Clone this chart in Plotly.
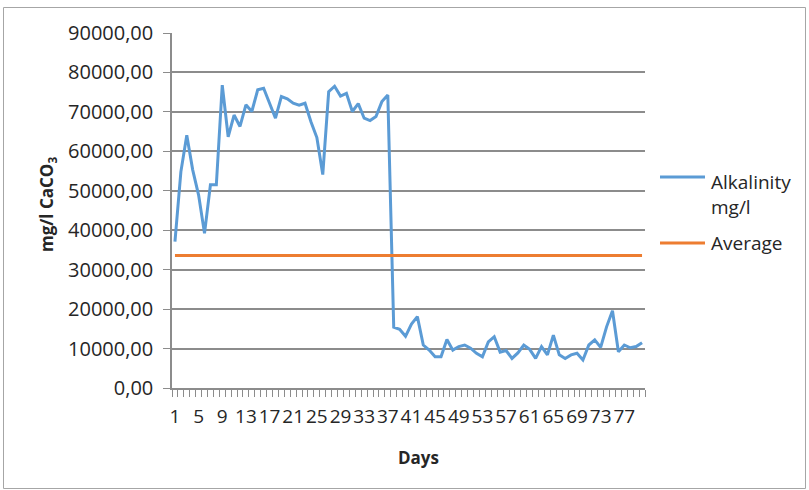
import plotly.graph_objects as go

days = list(range(1, 81))
alkalinity = [37100, 54800, 64100, 55300, 48900, 39200, 51500, 51500, 76800, 63700,
              69200, 66300, 71800, 70100, 75600, 76000, 72200, 68400, 73900, 73300,
              72200, 71700, 72200, 67500, 63500, 54100, 75100, 76500, 74000, 74700,
              70100, 72100, 68400, 67800, 68800, 72600, 74300, 15400, 14900, 13100,
              16200, 18100, 10900, 9600, 7900, 7900, 12300, 9600, 10500, 10900,
              10100, 8800, 7900, 11700, 13000, 9100, 9500, 7500, 8900, 10900,
              9800, 7500, 10500, 8400, 13400, 8400, 7500, 8400, 8800, 7100,
              10900, 12200, 10300, 15500, 19600, 9200, 10900, 10200, 10500, 11500]
average = [33600] * 80
tick_days = list(range(1, 78, 4))
tick_labels = [str(d) for d in tick_days]

W, H = 809, 490
L, R, T, B = 172, 645, 33, 388


def px(xp):
    return (xp - L) / (R - L)


def py(yp):
    return (B - yp) / (B - T)


FONT = "Open Sans"
BLUE = "#5B9BD5"
ORANGE = "#ED7D31"
GRID = "#8c8c8c"

fig = go.Figure()
fig.add_trace(go.Scatter(x=days, y=alkalinity, mode="lines", name="Alkalinity mg/l",
                         line=dict(color=BLUE, width=3), showlegend=False))
fig.add_trace(go.Scatter(x=days, y=average, mode="lines", name="Average",
                         line=dict(color=ORANGE, width=3), showlegend=False))

fig.update_layout(
    width=W, height=H,
    margin=dict(l=L, r=W - R, t=T, b=H - B, autoexpand=False),
    paper_bgcolor="white", plot_bgcolor="white",
    separators=",.",
    font=dict(family=FONT, size=19, color="#262626"),
    xaxis=dict(range=[0.5, 80.5], tickmode="array", tickvals=tick_days, ticktext=tick_labels,
               tickangle=0, automargin=False,
               ticks="outside", ticklen=8, tickcolor="rgba(0,0,0,0)", ticklabelstandoff=2,
               showgrid=False, zeroline=False, showline=True, linecolor=GRID, linewidth=1.5,
               tickfont=dict(size=19),
               minor=dict(tickmode="array", tickvals=[d + 0.5 for d in range(0, 81)],
                          ticks="outside", ticklen=7, tickcolor=GRID, tickwidth=1, showgrid=False)),
    yaxis=dict(range=[0, 90000], dtick=10000, tickformat=".2f", automargin=False,
               ticks="outside", ticklen=7, tickcolor=GRID, ticklabelstandoff=6,
               showgrid=True, gridcolor=GRID, gridwidth=1.5, zeroline=False,
               showline=True, linecolor=GRID, linewidth=1.5, tickfont=dict(size=20)),
)

fig.add_annotation(x=px(418), y=py(457), xref="paper", yref="paper", text="<b>Days</b>",
                   showarrow=False, font=dict(size=17, color="#262626"),
                   xanchor="center", yanchor="middle")
fig.add_annotation(x=px(47), y=py(205), xref="paper", yref="paper",
                   text="<b>mg/l CaCO<sub>3</sub></b>", textangle=-90,
                   showarrow=False, font=dict(size=17, color="#262626"),
                   xanchor="center", yanchor="middle")

# legend
fig.add_shape(type="line", xref="paper", yref="paper", x0=px(660), x1=px(705), y0=py(177), y1=py(177),
              line=dict(color=BLUE, width=3))
fig.add_shape(type="line", xref="paper", yref="paper", x0=px(660), x1=px(705), y0=py(243), y1=py(243),
              line=dict(color=ORANGE, width=3))
fig.add_annotation(x=px(709), y=py(194.5), xref="paper", yref="paper", text="Alkalinity<br>mg/l",
                   showarrow=False, align="left", xanchor="left", yanchor="middle",
                   font=dict(size=19, color="#262626"))
fig.add_annotation(x=px(709), y=py(243), xref="paper", yref="paper", text="Average",
                   showarrow=False, align="left", xanchor="left", yanchor="middle",
                   font=dict(size=19, color="#262626"))

# chart border
fig.add_shape(type="rect", xref="paper", yref="paper", x0=px(3.5), x1=px(805.5), y0=py(7.5), y1=py(488.5),
              line=dict(color="#a6a6a6", width=1), layer="below")

fig.write_html("out.html", config={"displayModeBar": False},
               post_script="document.body.style.margin='0';")
